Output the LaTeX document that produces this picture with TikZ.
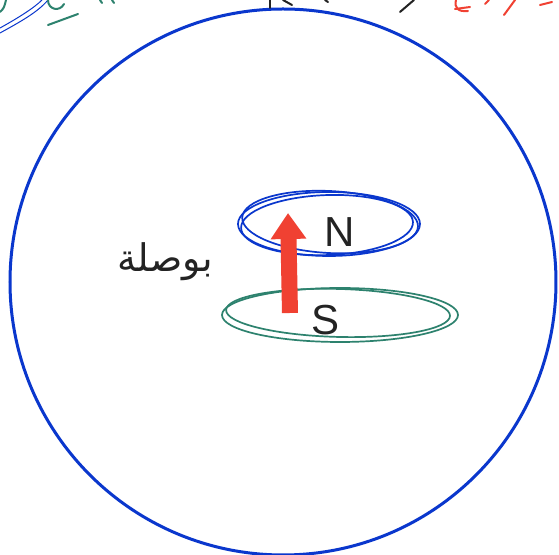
\documentclass[tikz,border=0pt]{standalone}
\usepackage{fontspec}
\setsansfont{Liberation Sans}
\newfontfamily\arabicfont[Script=Arabic]{DejaVu Sans}
\TeXXeTstate=1
\usetikzlibrary{arrows.meta,calc,positioning}
\definecolor{penblue}{RGB}{10,55,205}
\definecolor{pengreen}{RGB}{45,130,110}
\definecolor{penred}{RGB}{240,65,50}
\definecolor{penblack}{RGB}{35,35,35}
\tikzset{
  ring/.style        = {draw=penblue, line width=1.5pt},
  sketchline/.style  = {line width=0.85pt, line cap=round},
  polelabel/.style   = {font=\sffamily\fontsize{21}{21}\selectfont, text=penblack},
  needle/.style      = {draw=penred, line width=8pt,
                        -{Triangle[length=13pt,width=17pt]}},
  scrap/.style       = {line width=1pt, line cap=round},
}

\begin{document}
\begin{tikzpicture}[x=0.5pt,y=-0.5pt]
  \useasboundingbox (0,0) rectangle (559,555);
  \fill[white] (0,0) rectangle (559,555);

  % ---------------- outer field -------------------------------------------
  \draw[ring] (283,282) circle [radius=273];

  % ---------------- poles --------------------------------------------------
  \draw[sketchline,penblue] (329,224) ellipse [x radius=91, y radius=32];
  \draw[sketchline,penblue,rotate around={-3:(329,224)}] (330,222) ellipse [x radius=88, y radius=31];
  \draw[sketchline,penblue,rotate around={2:(329,224)}] (327,225) ellipse [x radius=86, y radius=30];
  \draw[sketchline,pengreen] (340,315) ellipse [x radius=118, y radius=27];
  \draw[sketchline,pengreen,rotate around={-1.5:(340,315)}] (338,313) ellipse [x radius=112, y radius=24];

  \node[polelabel] (north) at (340,232) {N};
  \node[polelabel] (south) at (326,320) {S};

  % ---------------- needle -------------------------------------------------
  \coordinate (needle tail) at (290,313);
  \coordinate (needle tip)  at (288,213);
  \draw[needle] (needle tail) -- (needle tip);

  \node[text=penblack,font=\fontsize{19}{19}\selectfont] (compass) at (165,262)
       {\arabicfont\beginR بوصلة\endR};

  % ---------------- cut-off scraps at the top -----------------------------
  \draw[scrap,penblue,line width=0.5pt] (0,33) .. controls (20,22) and (38,12) .. (48,0);
  \draw[scrap,penblue,line width=0.5pt] (0,28) .. controls (18,18) and (34,8) .. (42,0);
  \draw[scrap,pengreen] (48,25) -- (78,14);
  \draw[scrap,pengreen] (0,12) .. controls (4,8) .. (6,0);
  \draw[scrap,pengreen] (48,0) .. controls (48,10) and (60,12) .. (64,4);
  \draw[scrap,pengreen] (100,0) -- (102,3);
  \draw[scrap,pengreen] (112,0) -- (114,3);
  \draw[scrap,penblack] (270,0) -- (270,8);
  \draw[scrap,penblack] (283,0) -- (292,5);
  \draw[scrap,penblack] (325,0) -- (328,2);
  \draw[scrap,penblack] (400,12) -- (414,0);
  \draw[scrap,penred] (456,0) .. controls (454,8) and (458,12) .. (468,11);
  \draw[scrap,penred] (455,9) -- (470,7);
  \draw[scrap,penred] (485,4) -- (489,0);
  \draw[scrap,penred] (504,15) -- (515,0);
  \draw[scrap,penred] (540,5) -- (552,2);
\end{tikzpicture}
\end{document}
